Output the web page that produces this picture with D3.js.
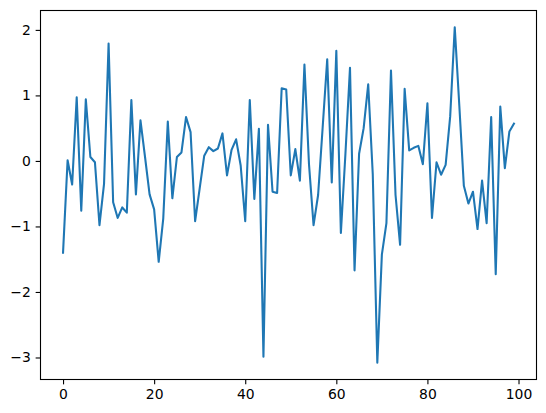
<!DOCTYPE html>
<html>
<head>
<meta charset="utf-8">
<script src="https://cdn.jsdelivr.net/npm/d3@7"></script>
<style>
  html, body { margin: 0; padding: 0; background: #ffffff; }
  svg { display: block; }
  text { font-family: "DejaVu Sans", sans-serif; }
</style>
</head>
<body>
<script>
const values = [
  -1.40, 0.01, -0.36, 0.97, -0.76, 0.94, 0.06, -0.02, -0.98, -0.35,
  1.79, -0.63, -0.87, -0.71, -0.79, 0.93, -0.51, 0.62, 0.06, -0.51,
  -0.74, -1.54, -0.88, 0.60, -0.57, 0.06, 0.13, 0.67, 0.44, -0.92,
  -0.42, 0.08, 0.21, 0.15, 0.19, 0.42, -0.22, 0.17, 0.33, -0.07,
  -0.92, 0.93, -0.58, 0.49, -2.99, 0.55, -0.47, -0.49, 1.11, 1.09,
  -0.22, 0.18, -0.30, 1.47, -0.05, -0.98, -0.52, 0.51, 1.55, -0.33,
  1.68, -1.10, 0.11, 1.42, -1.67, 0.11, 0.50, 1.17, -0.20, -3.08,
  -1.43, -0.95, 1.38, -0.52, -1.28, 1.10, 0.16, 0.20, 0.23, -0.05,
  0.88, -0.87, -0.02, -0.21, -0.06, 0.68, 2.04, 0.85, -0.38, -0.65,
  -0.47, -1.04, -0.30, -0.95, 0.67, -1.73, 0.83, -0.11, 0.45, 0.57
];
const indices = values.map((v, i) => i);
const xTicks = [0, 20, 40, 60, 80, 100];
const yTicks = [-3, -2, -1, 0, 1, 2];

const W = 546, H = 413;
const mLeft = 40.5, mTop = 10.5, plotW = 496, plotH = 369;

const svg = d3.select("body").append("svg").attr("width", W).attr("height", H);

const xExt = d3.extent(indices), yExt = d3.extent(values);
const xPad = (xExt[1] - xExt[0]) * 0.05, yPad = (yExt[1] - yExt[0]) * 0.05;
const x = d3.scaleLinear().domain([xExt[0] - xPad, xExt[1] + xPad]).range([mLeft, mLeft + plotW]);
const y = d3.scaleLinear().domain([yExt[0] - yPad, yExt[1] + yPad]).range([mTop + plotH, mTop]);

const fmt = d => d < 0 ? "\u2212" + Math.abs(d) : String(d);

// line
const line = d3.line().x((d, i) => x(i)).y(d => y(d));
svg.append("path")
  .datum(values)
  .attr("fill", "none")
  .attr("stroke", "#1f77b4")
  .attr("stroke-width", 2.08)
  .attr("stroke-linejoin", "round")
  .attr("stroke-linecap", "square")
  .attr("d", line);

// axes
const xAxis = d3.axisBottom(x).tickValues(xTicks).tickSize(4.86).tickPadding(4.86).tickFormat(fmt);
const yAxis = d3.axisLeft(y).tickValues(yTicks).tickSize(4.86).tickPadding(4.86).tickFormat(fmt);

const gx = svg.append("g").attr("transform", `translate(0,${mTop + plotH})`).call(xAxis);
const gy = svg.append("g").attr("transform", `translate(${mLeft},0)`).call(yAxis);
[gx, gy].forEach(g => {
  g.select(".domain").remove();
  g.selectAll(".tick line").attr("stroke", "#000").attr("stroke-width", 1.1);
  g.selectAll(".tick text").attr("fill", "#000").style("font-size", "13.9px")
    .style("font-family", "'DejaVu Sans', sans-serif");
});

// spines
svg.append("rect")
  .attr("x", mLeft).attr("y", mTop).attr("width", plotW).attr("height", plotH)
  .attr("fill", "none").attr("stroke", "#000").attr("stroke-width", 1.1);
</script>
</body>
</html>
